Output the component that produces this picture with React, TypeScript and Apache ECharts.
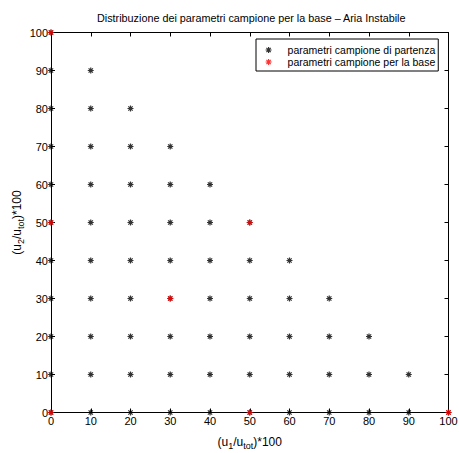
import React, { useEffect, useRef } from "react";
import * as echarts from "echarts";

const titleText = "Distribuzione dei parametri campione per la base \u2013 Aria Instabile";
const seriesNames = ["parametri campione di partenza", "parametri campione per la base"];

// starting sample parameters (u1%, u2%)
const startPoints: [number, number][] = [
  [0, 0], [0, 10], [0, 20], [0, 30], [0, 40], [0, 50], [0, 60], [0, 70], [0, 80], [0, 90], [0, 100],
  [10, 0], [10, 10], [10, 20], [10, 30], [10, 40], [10, 50], [10, 60], [10, 70], [10, 80], [10, 90],
  [20, 0], [20, 10], [20, 20], [20, 30], [20, 40], [20, 50], [20, 60], [20, 70], [20, 80],
  [30, 0], [30, 10], [30, 20], [30, 30], [30, 40], [30, 50], [30, 60], [30, 70],
  [40, 0], [40, 10], [40, 20], [40, 30], [40, 40], [40, 50], [40, 60],
  [50, 0], [50, 10], [50, 20], [50, 30], [50, 40], [50, 50],
  [60, 0], [60, 10], [60, 20], [60, 30], [60, 40],
  [70, 0], [70, 10], [70, 20], [70, 30],
  [80, 0], [80, 10], [80, 20],
  [90, 0], [90, 10],
  [100, 0],
];

// sample parameters chosen for the base
const basePoints: [number, number][] = [
  [0, 0], [0, 50], [0, 100], [30, 30], [50, 50], [50, 0], [100, 0],
];

const ASTERISK = "path://M0,-1L0,1M-1,0L1,0M-0.72,-0.72L0.72,0.72M-0.72,0.72L0.72,-0.72";
const FONT = "'Liberation Sans', Arial, Helvetica, sans-serif";

export default function App() {
  const ref = useRef<HTMLDivElement>(null);
  useEffect(() => {
    if (!ref.current) return;
    const chart = echarts.init(ref.current, null, { renderer: "svg" });
    const grid = { left: 51, right: 10.5, top: 32.5, bottom: 40.5, containLabel: false, outerBoundsMode: "none" };
    const subRich = {
      sub: { fontSize: 9, fontFamily: FONT, color: "#000", padding: [8, 0, 0, 0], lineHeight: 9 },
    };
    const baseAxis = {
      min: 0,
      max: 100,
      interval: 10,
      axisLine: { show: true, onZero: false, lineStyle: { color: "#000", width: 1 } },
      axisTick: { show: true, inside: true, length: 4, lineStyle: { color: "#000" } },
      splitLine: { show: false },
    };
    chart.setOption({
      animation: false,
      textStyle: { fontFamily: FONT },
      title: {
        text: titleText,
        left: 97,
        top: 12,
        padding: 0,
        textStyle: { fontSize: 10.8, fontWeight: "normal", color: "#000", fontFamily: FONT },
      },
      grid,
      legend: {
        orient: "vertical",
        left: 256,
        top: 39,
        padding: [5, 3, 3, 9],
        itemGap: 0,
        itemWidth: 6,
        itemHeight: 6,
        backgroundColor: "#fff",
        borderColor: "#000",
        borderWidth: 1,
        borderRadius: 0,
        itemStyle: { borderColor: "inherit", borderWidth: 1.2 },
        textStyle: { fontSize: 10.5, color: "#000", fontFamily: FONT, padding: [0, 0, 0, 11], lineHeight: 12 },
        data: seriesNames.map((n) => ({ name: n, icon: ASTERISK })),
      },
      xAxis: [
        {
          ...baseAxis,
          type: "value",
          position: "bottom",
          axisLabel: { show: true, color: "#000", fontSize: 11, margin: 3, fontFamily: FONT },
          name: "(u{sub|1}/u{sub|tot})*100",
          nameLocation: "middle",
          nameGap: 23,
          nameMoveOverlap: false,
          nameTextStyle: { fontSize: 12, color: "#000", fontFamily: FONT, rich: subRich },
        },
        {
          ...baseAxis,
          type: "value",
          position: "top",
          axisLabel: { show: false },
        },
      ],
      yAxis: [
        {
          ...baseAxis,
          type: "value",
          position: "left",
          axisLabel: { show: true, color: "#000", fontSize: 11, margin: 3, fontFamily: FONT },
          name: "(u{sub|2}/u{sub|tot})*100",
          nameLocation: "middle",
          nameGap: 28,
          nameMoveOverlap: false,
          nameRotate: 90,
          nameTextStyle: { fontSize: 12, color: "#000", fontFamily: FONT, rich: subRich },
        },
        {
          ...baseAxis,
          type: "value",
          position: "right",
          axisLabel: { show: false },
        },
      ],
      series: [
        {
          name: seriesNames[0],
          type: "scatter",
          data: startPoints,
          symbol: ASTERISK,
          symbolSize: 6,
          clip: false,
          itemStyle: { color: "#000", borderColor: "#000", borderWidth: 1.2 },
          z: 3,
        },
        {
          name: seriesNames[1],
          type: "scatter",
          data: basePoints,
          symbol: ASTERISK,
          symbolSize: 6,
          clip: false,
          itemStyle: { color: "#f00", borderColor: "#f00", borderWidth: 1.2 },
          z: 4,
        },
      ],
    });
    return () => chart.dispose();
  }, []);
  return (
    <div
      ref={ref}
      style={{ position: "absolute", left: 0, top: 0, width: 459, height: 453, background: "#fff" }}
    />
  );
}
